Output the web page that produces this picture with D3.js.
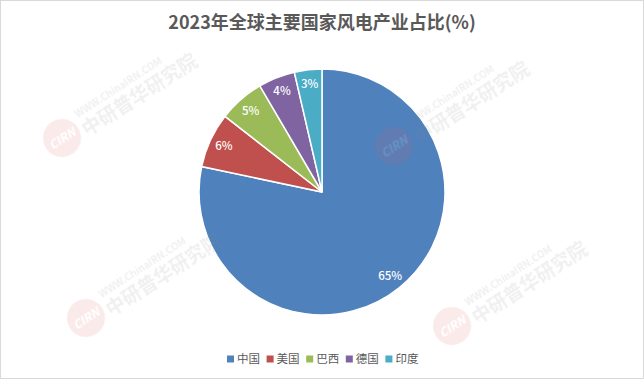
<!DOCTYPE html>
<html>
<head>
  <meta charset="utf-8" />
  <style>
    body { margin: 0; background: #fff; }
    text { font-family: "Noto Sans CJK SC", "Microsoft YaHei", sans-serif; }
  </style>
</head>
<body>
  <svg id="container" width="644" height="379"></svg>
  <script src="https://cdn.jsdelivr.net/npm/d3@7/dist/d3.min.js"></script>
<script>
var countries = ['中国', '美国', '巴西', '德国', '印度'];
var shares = [65, 6, 5, 4, 3];
var colors = ['#4f81bd', '#c0504d', '#9bbb59', '#8064a2', '#4bacc6'];
var title = '2023年全球主要国家风电产业占比(%)';

var width = 644, height = 379;
var cx = 322, cy = 192, radius = 123;
var svg = d3.select('#container');

// frame
svg.append('rect')
  .attr('x', 0.5).attr('y', 0.5)
  .attr('width', width - 1).attr('height', height - 1)
  .attr('fill', '#fff').attr('stroke', '#d9d9d9');

// title
svg.append('text')
  .attr('x', width / 2).attr('y', 29)
  .attr('text-anchor', 'middle')
  .attr('font-size', 18).attr('font-weight', 'bold')
  .attr('fill', '#595959')
  .text(title);

// pie
var pie = d3.pie().sort(null).value(function (d) { return d; });
var arcs = pie(shares);
var arc = d3.arc().innerRadius(0).outerRadius(radius);
var labelArc = d3.arc().innerRadius(radius * 0.88).outerRadius(radius * 0.88);

var g = svg.append('g').attr('transform', 'translate(' + cx + ',' + cy + ')');
g.selectAll('path')
  .data(arcs)
  .enter().append('path')
    .attr('d', arc)
    .attr('fill', function (d, i) { return colors[i]; })
    .attr('stroke', '#fff')
    .attr('stroke-width', 1.5);

g.selectAll('text.lbl')
  .data(arcs)
  .enter().append('text')
    .attr('class', 'lbl')
    .attr('transform', function (d) { return 'translate(' + labelArc.centroid(d) + ')'; })
    .attr('dy', '0.35em')
    .attr('text-anchor', 'middle')
    .attr('font-size', 11.5)
    .attr('font-weight', 500)
    .attr('fill', '#fff')
    .text(function (d) { return d.data + '%'; });

// legend
var legend = svg.append('g').attr('transform', 'translate(227,359)');
var item = legend.selectAll('g')
  .data(countries)
  .enter().append('g')
    .attr('transform', function (d, i) { return 'translate(' + (i * 39.6) + ',0)'; });
item.append('rect')
  .attr('x', 0).attr('y', -3.5).attr('width', 7).attr('height', 7)
  .attr('fill', function (d, i) { return colors[i]; });
item.append('text')
  .attr('x', 10).attr('y', 0).attr('dy', '0.35em')
  .attr('font-size', 11.5).attr('fill', '#595959')
  .text(function (d) { return d; });

// faint watermarks on top (logo centre positions)
var marks = [[62, 138], [394, 146], [86, 318], [452, 326]];
var wm = svg.append('g').attr('aria-hidden', 'true').attr('opacity', 0.13)
  .style('pointer-events', 'none');
marks.forEach(function (m) {
  var w = wm.append('g').attr('transform', 'translate(' + m[0] + ',' + m[1] + ') rotate(-33)');
  w.append('circle').attr('r', 19).attr('fill', '#e06060');
  w.append('text').attr('y', 5).attr('text-anchor', 'middle')
    .attr('font-size', 12).attr('font-weight', 'bold').attr('font-style', 'italic')
    .attr('fill', '#fff').text('CIRN');
  w.append('text').attr('x', 24).attr('y', -8)
    .attr('font-size', 10).attr('font-weight', 'bold').attr('fill', '#888')
    .text('WWW.ChinaIRN.COM');
  w.append('text').attr('x', 22).attr('y', 13)
    .attr('font-size', 19).attr('font-weight', 'bold').attr('fill', '#888')
    .text('中研普华研究院');
});
</script>
</body>
</html>
